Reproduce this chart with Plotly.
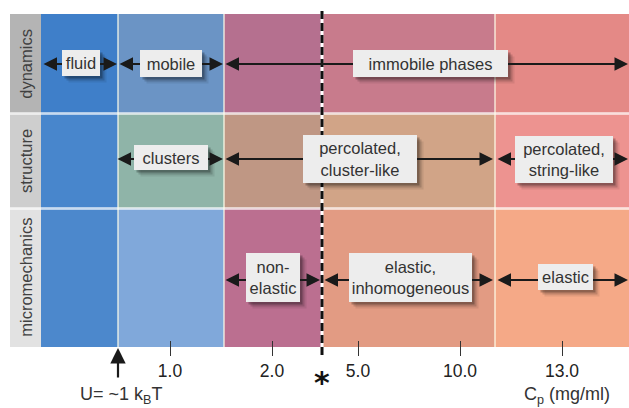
import plotly.graph_objects as go

# ---------------- data ----------------
rows = ["dynamics", "structure", "micromechanics"]
tick_labels = ["1.0", "2.0", "5.0", "10.0", "13.0"]
dynamics_labels = ["fluid", "mobile", "immobile phases"]
structure_labels = ["clusters", "percolated,<br>cluster-like", "percolated,<br>string-like"]
micromechanics_labels = ["non-<br>elastic", "elastic,<br>inhomogeneous", "elastic"]
threshold_label = "U= ~1 k<sub>B</sub>T"
axis_title = "C<sub>p</sub> (mg/ml)"
marker_label = "*"

# ---------------- layout (diagram units) ----------------
W, H = 629, 408
row_edges = [14, 113.5, 208.5, 347]
col_edges = [41, 118, 224, 322, 495, 629]
tick_pos = [170, 272, 358, 460, 562]
threshold_x = 118
star_x = 322
arrow_y = [64, 159, 280]

regime_spans = [
    [(43, 117), (119, 223), (225, 628)],
    [(117, 223), (225, 493), (497, 628)],
    [(225, 320), (324, 493), (497, 628)],
]
box_rects = [
    [(62, 100, 50, 76), (140, 202, 50, 77), (353, 508, 50, 77)],
    [(134, 208, 145, 170), (303, 417, 135, 183), (515, 613, 136, 183)],
    [(246, 300, 253, 302), (349, 472, 253, 302), (538, 593, 264, 290)],
]
cell_colors = [
    ["#3f7fc9", "#6b94c5", "#b5708f", "#c87b8c", "#e48986"],
    ["#4886cc", "#8fb4a8", "#bf9784", "#d1a487", "#ed9390"],
    ["#4c88cc", "#80a8da", "#bb6f90", "#e29b83", "#f5a987"],
]
label_bg = ["#b4b4b4", "#cecece", "#e2e2e2"]
FONT = "Liberation Sans, Arial, sans-serif"

fig = go.Figure()
shapes = []

# cells
for r in range(len(rows)):
    y0, y1 = row_edges[r], row_edges[r + 1]
    shapes.append(dict(type="rect", xref="x", yref="y", x0=10, x1=col_edges[0], y0=y0, y1=y1,
                       fillcolor=label_bg[r], line=dict(width=0), layer="below"))
    for c in range(len(col_edges) - 1):
        shapes.append(dict(type="rect", xref="x", yref="y", x0=col_edges[c], x1=col_edges[c + 1],
                           y0=y0, y1=y1, fillcolor=cell_colors[r][c], line=dict(width=0), layer="below"))
# row separators (light stripes)
for ye in row_edges[1:-1]:
    shapes.append(dict(type="rect", xref="x", yref="y", x0=10, x1=W, y0=ye - 1.5, y1=ye + 1.5,
                       fillcolor="rgba(255,255,255,0.6)", line=dict(width=0), layer="below"))
# column separators
for xe in [col_edges[1], col_edges[2], col_edges[4]]:
    shapes.append(dict(type="line", xref="x", yref="y", x0=xe, x1=xe, y0=row_edges[0], y1=row_edges[-1],
                       line=dict(color="rgba(255,255,235,0.8)", width=1.5), layer="below"))

# dashed threshold line
fig.add_trace(go.Scatter(x=[star_x, star_x], y=[11, 357], mode="lines",
                         line=dict(color="white", width=3), hoverinfo="skip", showlegend=False))
fig.add_trace(go.Scatter(x=[star_x, star_x], y=[11, 357], mode="lines",
                         line=dict(color="#111111", width=3, dash="8px,4px"), hoverinfo="skip", showlegend=False))

# shadows
for r in range(len(rows)):
    for (x0, x1, y0, y1) in box_rects[r]:
        for off, a in [(6.5, 0.08), (4.5, 0.15), (2.5, 0.25)]:
            shapes.append(dict(type="rect", xref="x", yref="y", x0=x0 + off, x1=x1 + off,
                               y0=y0 + off, y1=y1 + off, fillcolor=f"rgba(0,0,0,{a})",
                               line=dict(width=0), layer="above"))

annotations = []
# arrows
for r in range(len(rows)):
    for (xa, xb) in regime_spans[r]:
        annotations.append(dict(x=xb, y=arrow_y[r], ax=xa, ay=arrow_y[r], xref="x", yref="y",
                                axref="x", ayref="y", text="", showarrow=True, arrowhead=2,
                                startarrowhead=2, arrowside="end+start", arrowsize=1.35,
                                startarrowsize=1.35, arrowwidth=2, arrowcolor="#1a1a1a",
                                standoff=0, startstandoff=0, borderpad=0))
# up arrow at threshold
annotations.append(dict(x=threshold_x, y=348, ax=threshold_x, ay=378, xref="x", yref="y",
                        axref="x", ayref="y", text="", showarrow=True, arrowhead=2,
                        arrowsize=1.4, arrowwidth=2.2, arrowcolor="#1a1a1a", standoff=0, borderpad=0))

# boxes
all_labels = [dynamics_labels, structure_labels, micromechanics_labels]
for r in range(len(rows)):
    for lab, (x0, x1, y0, y1) in zip(all_labels[r], box_rects[r]):
        annotations.append(dict(x=(x0 + x1) / 2, y=(y0 + y1) / 2, xref="x", yref="y", text=lab,
                                showarrow=False, width=x1 - x0, height=y1 - y0, bgcolor="#ededed",
                                borderpad=0, borderwidth=0, align="center", valign="middle",
                                font=dict(family=FONT, size=16.5, color="#333333")))
# row labels
for r, name in enumerate(rows):
    annotations.append(dict(x=26, y=(row_edges[r] + row_edges[r + 1]) / 2, xref="x", yref="y",
                            text=name, textangle=-90, showarrow=False,
                            font=dict(family=FONT, size=16.5, color="#404040")))
# bottom texts
annotations.append(dict(x=121, y=395, xref="x", yref="y", text=threshold_label, showarrow=False,
                        font=dict(family=FONT, size=18, color="#333333")))
annotations.append(dict(x=567, y=395, xref="x", yref="y", text=axis_title, showarrow=False,
                        font=dict(family=FONT, size=18, color="#333333")))
annotations.append(dict(x=star_x, y=382, xref="x", yref="y", text="<b>" + marker_label + "</b>",
                        showarrow=False,
                        font=dict(family="DejaVu Sans, sans-serif", size=30, color="#111111")))

fig.update_layout(
    width=W, height=H, margin=dict(l=0, r=0, t=0, b=0),
    paper_bgcolor="white", plot_bgcolor="rgba(0,0,0,0)",
    shapes=shapes, annotations=annotations, showlegend=False,
    xaxis=dict(range=[0, W], showgrid=False, zeroline=False, showline=False,
               tickmode="array", tickvals=tick_pos, ticktext=tick_labels,
               ticks="outside", ticklen=15, tickwidth=1.2, tickcolor="#333333",
               tickfont=dict(family=FONT, size=17.5, color="#222222"),
               anchor="free", position=1 - 340 / H, fixedrange=True),
    yaxis=dict(range=[H, 0], visible=False, fixedrange=True),
)

fig.write_html("out.html", config={"displayModeBar": False},
               post_script="document.body.style.margin='0';document.body.style.overflow='hidden';")
